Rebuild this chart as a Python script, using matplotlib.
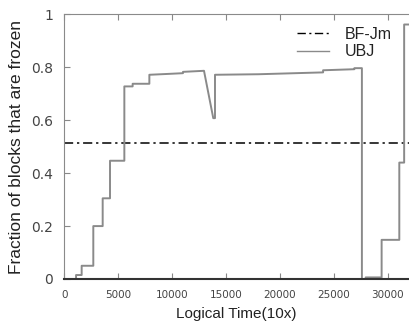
import matplotlib
matplotlib.use('Agg')
import matplotlib.pyplot as plt

# UBJ curve: (logical time, fraction frozen), vertical jumps as repeated x
ubj_t = [0, 1080, 1080, 1600, 1600, 2680, 2680, 3550, 3550, 4230, 4230,
         5560, 5560, 6330, 6330, 7880, 7880, 9500, 11000, 11000, 12950,
         13810, 13970, 13970, 18000, 24000, 24000, 26900, 26900, 27600,
         27600, 27950, 27950, 29430, 29430, 31070, 31070, 31520, 31520, 32000]
ubj_f = [0, 0, 0.015, 0.015, 0.05, 0.05, 0.2, 0.2, 0.305, 0.305, 0.447,
         0.447, 0.728, 0.728, 0.738, 0.738, 0.772, 0.775, 0.778, 0.783, 0.787,
         0.608, 0.608, 0.772, 0.774, 0.781, 0.789, 0.793, 0.797, 0.797,
         0, 0, 0.006, 0.006, 0.148, 0.148, 0.44, 0.44, 0.962, 0.962]
bfjm_level = 0.514

xticks = [0, 5000, 10000, 15000, 20000, 25000, 30000]
yticks = [0, 0.2, 0.4, 0.6, 0.8, 1]
ytick_labels = ['0', '0.2', '0.4', '0.6', '0.8', '1']

fig = plt.figure(figsize=(4.09, 3.27), dpi=100, facecolor='w')
ax = fig.add_axes([0.1575, 0.1468, 0.8425, 0.809])

ax.axhline(bfjm_level, color='black', lw=1.1, ls=(0, (6, 2.5, 1.5, 2.5)), label='BF-Jm')
ax.plot(ubj_t, ubj_f, color='#8a8a8a', lw=1.4, label='UBJ')

ax.set_xlim(0, 31970)
ax.set_ylim(0, 1)
ax.set_xticks(xticks)
ax.set_xticklabels([str(x) for x in xticks], fontsize=7.5, color='#444444', family='DejaVu Sans')
ax.set_yticks(yticks)
ax.set_yticklabels(ytick_labels, fontsize=10, color='#444444', family='DejaVu Sans')
ax.tick_params(direction='in', top=True, right=False, length=4, color='#888888')
ax.tick_params(axis='x', pad=8)
ax.tick_params(axis='y', pad=8)

ax.spines['right'].set_visible(False)
ax.spines['top'].set_color('#8a8a8a')
ax.spines['left'].set_color('#8a8a8a')
ax.spines['bottom'].set_color('#333333')
ax.spines['bottom'].set_linewidth(1.5)

ax.set_xlabel('Logical Time(10x)', fontsize=11, family='Liberation Sans', color='#222222', labelpad=5)
ax.set_ylabel('Fraction of blocks that are frozen', fontsize=12.5, family='Liberation Sans',
              color='#222222', labelpad=5)

leg = ax.legend(loc='upper left', bbox_to_anchor=(0.632, 1.008), frameon=False,
                prop={'family': 'Liberation Sans', 'size': 11.5},
                handlelength=2.0, handletextpad=1.0, labelspacing=0.15)
for line in leg.get_lines():
    line.set_linewidth(1.0)
for txt in leg.get_texts():
    txt.set_color('#222222')

plt.savefig('out.png', dpi=100)
